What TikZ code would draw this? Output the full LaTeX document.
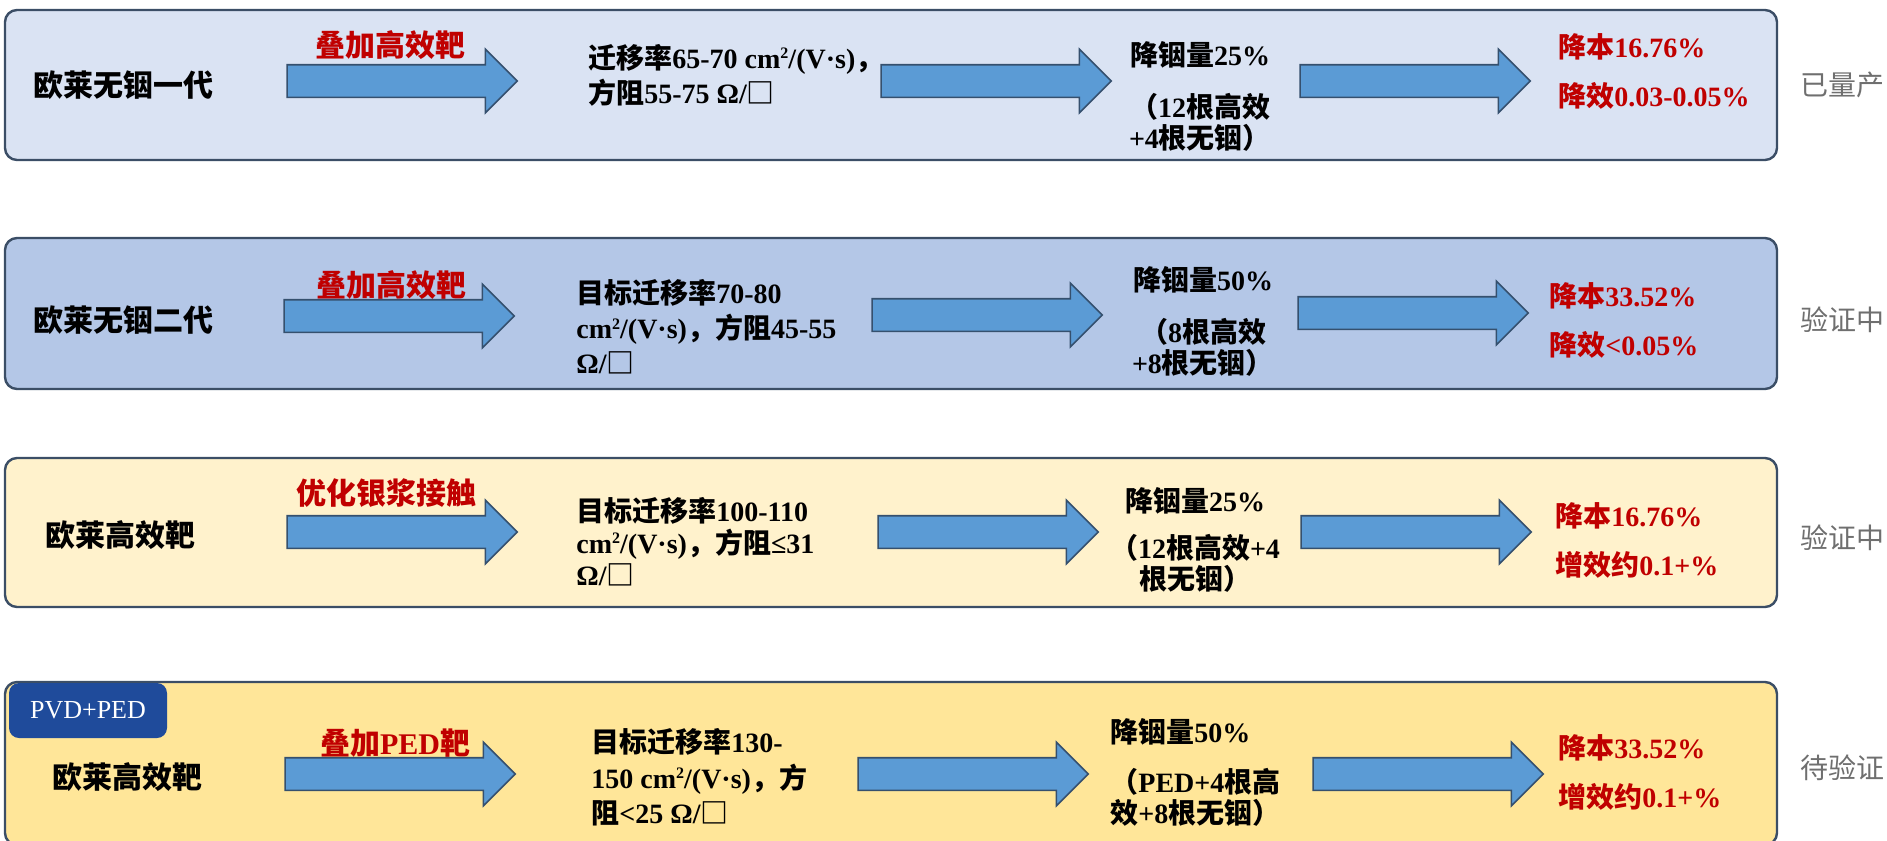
\documentclass[tikz,border=0pt]{standalone}
\usepackage{fontspec}
\setmainfont{Liberation Serif}
\newfontfamily\cjk{Noto Sans CJK SC}
\newcommand{\zh}[1]{{\cjk #1}}
\newcommand{\sqtwo}{\raisebox{0.75ex}{\fontsize{8}{8}\selectfont 2}}
\usetikzlibrary{shapes.arrows,positioning}

\definecolor{rowA}{HTML}{DAE3F3}
\definecolor{rowB}{HTML}{B4C7E7}
\definecolor{rowC}{HTML}{FFF2CC}
\definecolor{rowD}{HTML}{FFE699}
\definecolor{boxline}{HTML}{3B4E66}
\definecolor{arrowfill}{HTML}{5B9BD5}
\definecolor{arrowline}{HTML}{35506E}
\definecolor{myred}{HTML}{C00000}
\definecolor{stgray}{HTML}{6F6F6F}
\definecolor{badgeblue}{HTML}{1F4B9B}

\begin{document}
\begin{tikzpicture}[x=0.5pt, y=-0.5pt,
  rowbox/.style={draw=boxline, line width=1.2pt, rounded corners=6pt, minimum width=886pt},
  barrow/.style={single arrow, draw=arrowline, fill=arrowfill, line width=0.8pt,
    inner xsep=0pt, inner ysep=7.75pt, minimum width=31pt, single arrow head extend=7.75pt,
    minimum height=115pt},
  lbl/.style={inner sep=0pt, anchor=west, font=\fontsize{15}{18}\selectfont\bfseries},
  act/.style={inner sep=0pt, text=myred, font=\fontsize{15}{18}\selectfont\bfseries},
  body/.style={inner sep=0pt, anchor=west, align=left, font=\fontsize{14}{17.5}\selectfont\bfseries},
  cut/.style={inner sep=0pt, align=center, font=\fontsize{14}{15.5}\selectfont\bfseries},
  gain/.style={inner sep=0pt, anchor=west, align=left, text=myred, font=\fontsize{14}{24.5}\selectfont\bfseries},
  status/.style={inner sep=0pt, anchor=west, text=stgray, font=\fontsize{14}{16}\selectfont\cjk},
  badge/.style={fill=badgeblue, rounded corners=5pt, text=white, inner sep=0pt,
    minimum width=79pt, minimum height=27.5pt, font=\fontsize{13}{16}\selectfont}]
  \useasboundingbox (0,0) rectangle (1887,841);
  \clip (0,0) rectangle (1887,841);

  % rows
  \node[rowbox, fill=rowA, minimum height=75pt] (r1) at (891,85) {};
  \node[rowbox, fill=rowB, minimum height=75.5pt] (r2) at (891,313.5) {};
  \node[rowbox, fill=rowC, minimum height=74.5pt] (r3) at (891,532.5) {};
  \node[rowbox, fill=rowD, minimum height=81.5pt] (r4) at (891,763.5) {};

  \node[status] (s1) at (1800,85) {已量产};
  \node[status] (s2) at (1800,320) {验证中};
  \node[status] (s3) at (1800,538) {验证中};
  \node[status] (s4) at (1800,768) {待验证};

  % row 1
  \node[lbl] (t1) at (33,85) {\zh{欧莱无铟一代}};
  \node[act] (p1) at (390,45) {\zh{叠加高效靶}};
  \node[barrow] (a11) at (394,81) {};
  \node[body] (m1) at (588,75) {\zh{迁移率}65-70 cm\sqtwo/(V·s)\zh{，}\\
    \zh{方阻}55-75 Ω/\zh{□}};
  \node[barrow] (a12) at (988,81) {};
  \node[cut] (c1) at (1200,96) {\zh{降铟量}25\%\\[10.5pt]\zh{（}12\zh{根高效}\\+4\zh{根无铟）}};
  \node[barrow] (a13) at (1407,81) {};
  \node[gain] (g1) at (1558,71) {\zh{降本}16.76\%\\\zh{降效}0.03-0.05\%};

  % row 2
  \node[lbl] (t2) at (33,320) {\zh{欧莱无铟二代}};
  \node[act] (p2) at (391,285) {\zh{叠加高效靶}};
  \node[barrow] (a21) at (391,316) {};
  \node[body] (m2) at (576,327) {\zh{目标迁移率}70-80\\
    cm\sqtwo/(V·s)\zh{，方阻}45-55\\Ω/\zh{□}};
  \node[barrow] (a22) at (979,315) {};
  \node[cut] (c2) at (1203,321) {\zh{降铟量}50\%\\[10.5pt]\zh{（}8\zh{根高效}\\+8\zh{根无铟）}};
  \node[barrow] (a23) at (1405,313) {};
  \node[gain] (g2) at (1549,320) {\zh{降本}33.52\%\\\zh{降效}<0.05\%};

  % row 3
  \node[lbl] (t3) at (45,535) {\zh{欧莱高效靶}};
  \node[act] (p3) at (386,493) {\zh{优化银浆接触}};
  \node[barrow] (a31) at (394,532) {};
  \node[body, font=\fontsize{14}{16}\selectfont\bfseries] (m3) at (576,541.5) {\zh{目标迁移率}100-110\\
    cm\sqtwo/(V·s)\zh{，方阻}≤31\\Ω/\zh{□}};
  \node[barrow, minimum height=110pt] (a32) at (980,532) {};
  \node[cut] (c3) at (1195,540) {\zh{降铟量}25\%\\[8pt]\zh{（}12\zh{根高效}+4\\\zh{根无铟）}};
  \node[barrow] (a33) at (1408,532) {};
  \node[gain] (g3) at (1555,540) {\zh{降本}16.76\%\\\zh{增效约}0.1+\%};

  % row 4
  \node[badge] (pvd) at (88,710.5) {PVD+PED};
  \node[lbl] (t4) at (52,777) {\zh{欧莱高效靶}};
  \node[act] (p4) at (395,743) {\zh{叠加}PED\zh{靶}};
  \node[barrow] (a41) at (392,774) {};
  \node[body, font=\fontsize{14}{17.75}\selectfont\bfseries] (m4) at (591,777.5) {\zh{目标迁移率}130-\\
    150 cm\sqtwo/(V·s)\zh{，方}\\\zh{阻}<25 Ω/\zh{□}};
  \node[barrow] (a42) at (965,774) {};
  \node[cut, align=left, anchor=west] (c4) at (1110,772.5) {\zh{降铟量}50\%\\[9.5pt]\zh{（}PED+4\zh{根高}\\\zh{效}+8\zh{根无铟）}};
  \node[barrow] (a43) at (1420,774) {};
  \node[gain] (g4) at (1558,772.5) {\zh{降本}33.52\%\\\zh{增效约}0.1+\%};
\end{tikzpicture}
\end{document}
